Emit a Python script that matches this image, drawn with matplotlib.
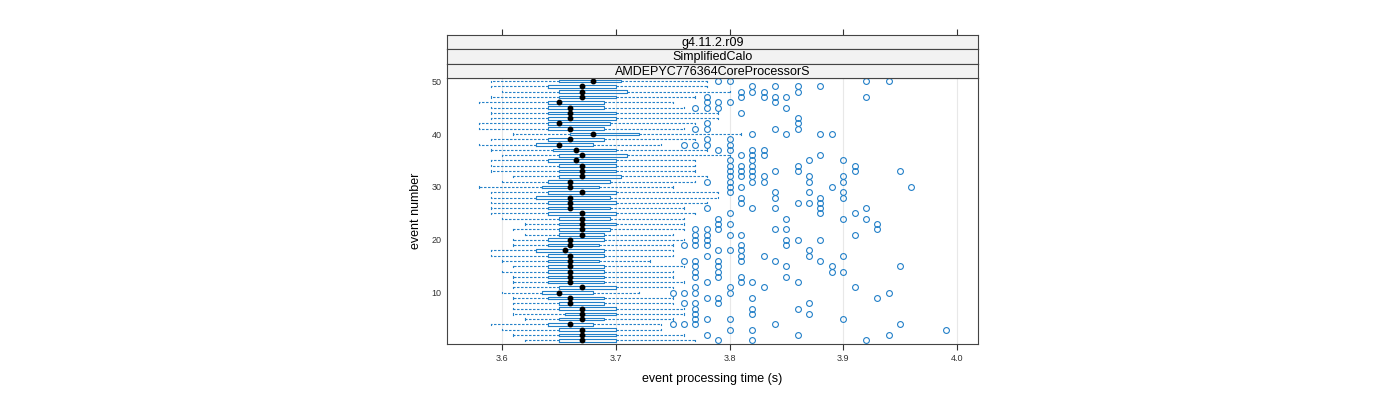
import matplotlib
matplotlib.use("Agg")
import matplotlib.pyplot as plt

plt.rcParams['font.family'] = ['Liberation Sans', 'DejaVu Sans']

events = list(range(1, 51))
whislo = [3.62, 3.61, 3.60, 3.59, 3.62, 3.61, 3.61, 3.61, 3.61, 3.60,
          3.61, 3.61, 3.61, 3.60, 3.61, 3.60, 3.59, 3.59, 3.61, 3.61,
          3.62, 3.61, 3.62, 3.60, 3.59, 3.59, 3.59, 3.59, 3.59, 3.58,
          3.60, 3.61, 3.59, 3.59, 3.59, 3.60, 3.59, 3.58, 3.59, 3.61,
          3.58, 3.58, 3.59, 3.59, 3.59, 3.58, 3.59, 3.60, 3.59, 3.59]
q1 = [3.65, 3.65, 3.65, 3.64, 3.65, 3.655, 3.65, 3.65, 3.64, 3.635,
      3.65, 3.64, 3.64, 3.64, 3.64, 3.64, 3.64, 3.63, 3.64, 3.64,
      3.65, 3.65, 3.65, 3.65, 3.64, 3.64, 3.64, 3.63, 3.64, 3.635,
      3.64, 3.65, 3.65, 3.65, 3.64, 3.65, 3.645, 3.63, 3.64, 3.66,
      3.64, 3.64, 3.64, 3.64, 3.64, 3.64, 3.65, 3.65, 3.64, 3.65]
med = [3.67, 3.67, 3.67, 3.66, 3.67, 3.67, 3.67, 3.66, 3.66, 3.65,
       3.67, 3.66, 3.66, 3.66, 3.66, 3.66, 3.66, 3.655, 3.66, 3.66,
       3.67, 3.67, 3.67, 3.67, 3.67, 3.66, 3.66, 3.66, 3.67, 3.66,
       3.66, 3.67, 3.67, 3.67, 3.665, 3.67, 3.665, 3.65, 3.66, 3.68,
       3.66, 3.65, 3.66, 3.66, 3.66, 3.65, 3.67, 3.67, 3.67, 3.68]
q3 = [3.70, 3.70, 3.70, 3.68, 3.69, 3.70, 3.70, 3.69, 3.69, 3.68,
      3.70, 3.69, 3.69, 3.69, 3.69, 3.685, 3.69, 3.69, 3.685, 3.69,
      3.69, 3.695, 3.70, 3.695, 3.70, 3.695, 3.70, 3.695, 3.70, 3.685,
      3.695, 3.705, 3.70, 3.70, 3.70, 3.71, 3.70, 3.68, 3.69, 3.72,
      3.69, 3.695, 3.70, 3.70, 3.69, 3.69, 3.70, 3.71, 3.70, 3.705]
whishi = [3.77, 3.76, 3.74, 3.74, 3.75, 3.76, 3.76, 3.75, 3.75, 3.72,
          3.75, 3.76, 3.75, 3.75, 3.76, 3.73, 3.75, 3.75, 3.75, 3.76,
          3.75, 3.76, 3.76, 3.76, 3.77, 3.76, 3.78, 3.79, 3.79, 3.75,
          3.77, 3.78, 3.77, 3.77, 3.77, 3.80, 3.78, 3.74, 3.77, 3.81,
          3.76, 3.77, 3.79, 3.79, 3.76, 3.75, 3.77, 3.80, 3.78, 3.78]
outliers = [
    [3.79, 3.82, 3.92],
    [3.78, 3.86, 3.94],
    [3.80, 3.82, 3.99],
    [3.75, 3.76, 3.77, 3.84, 3.95],
    [3.77, 3.78, 3.80, 3.90],
    [3.77, 3.82, 3.87],
    [3.77, 3.82, 3.86],
    [3.76, 3.77, 3.79, 3.87],
    [3.78, 3.79, 3.82, 3.93],
    [3.75, 3.76, 3.77, 3.80, 3.94],
    [3.77, 3.80, 3.83, 3.91],
    [3.78, 3.81, 3.82, 3.86],
    [3.77, 3.79, 3.81, 3.85],
    [3.77, 3.79, 3.89, 3.90],
    [3.77, 3.79, 3.85, 3.89, 3.95],
    [3.76, 3.77, 3.79, 3.81, 3.84, 3.88],
    [3.78, 3.81, 3.83, 3.87, 3.90],
    [3.79, 3.80, 3.81, 3.87],
    [3.76, 3.77, 3.78, 3.81, 3.85],
    [3.77, 3.78, 3.85, 3.86, 3.88],
    [3.77, 3.78, 3.80, 3.81, 3.91],
    [3.77, 3.78, 3.79, 3.84, 3.85, 3.93],
    [3.79, 3.80, 3.93],
    [3.79, 3.85, 3.90, 3.92],
    [3.80, 3.88, 3.91],
    [3.78, 3.82, 3.84, 3.88, 3.92],
    [3.81, 3.86, 3.87, 3.88],
    [3.81, 3.84, 3.88, 3.90],
    [3.80, 3.84, 3.87, 3.90],
    [3.80, 3.81, 3.89, 3.96],
    [3.78, 3.80, 3.82, 3.83, 3.87, 3.90],
    [3.80, 3.81, 3.82, 3.83, 3.87, 3.90],
    [3.80, 3.81, 3.82, 3.84, 3.86, 3.91, 3.95],
    [3.80, 3.81, 3.82, 3.86, 3.91],
    [3.80, 3.82, 3.87, 3.90],
    [3.81, 3.82, 3.83, 3.88],
    [3.79, 3.80, 3.82, 3.83],
    [3.76, 3.77, 3.78, 3.80],
    [3.78, 3.80],
    [3.82, 3.85, 3.88, 3.89],
    [3.77, 3.78, 3.84, 3.86],
    [3.78, 3.86],
    [3.86],
    [3.81],
    [3.77, 3.78, 3.79, 3.85],
    [3.78, 3.79, 3.80, 3.84],
    [3.78, 3.81, 3.83, 3.84, 3.85, 3.92],
    [3.81, 3.82, 3.83, 3.86],
    [3.82, 3.84, 3.86, 3.88],
    [3.79, 3.80, 3.92, 3.94],
]
x_ticks = [3.6, 3.7, 3.8, 3.9, 4.0]
x_ticklabels = ["3.6", "3.7", "3.8", "3.9", "4.0"]
y_ticks = [10, 20, 30, 40, 50]
strip_labels = ["g4.11.2.r09", "SimplifiedCalo", "AMDEPYC776364CoreProcessorS"]
xlabel = "event processing time (s)"
ylabel = "event number"

BLUE = "#2380c8"
W, H = 1400, 400
fig = plt.figure(figsize=(14, 4), dpi=100)

pl, pr, pt, pb = 447, 978, 78, 344
ax = fig.add_axes([pl / W, 1 - pb / H, (pr - pl) / W, (pb - pt) / H])

stats = []
for i in range(len(events)):
    stats.append(dict(med=med[i], q1=q1[i], q3=q3[i], whislo=whislo[i],
                      whishi=whishi[i], fliers=outliers[i], mean=med[i]))

ax.bxp(stats, positions=events, vert=False, widths=0.5, showmeans=True,
       boxprops=dict(color=BLUE, linewidth=0.8),
       whiskerprops=dict(color=BLUE, linewidth=0.8, linestyle=(0, (2.2, 1.4))),
       capprops=dict(color=BLUE, linewidth=0.8),
       capwidths=0.25,
       medianprops=dict(visible=False),
       meanprops=dict(marker='o', markerfacecolor='black', markeredgecolor='black',
                      markersize=3.2),
       flierprops=dict(marker='o', markerfacecolor='none', markeredgecolor=BLUE,
                       markersize=4.2, markeredgewidth=0.8),
       manage_ticks=False, zorder=3)

for xv in x_ticks:
    ax.axvline(xv, color='#e8e8e8', linewidth=0.8, zorder=0)

ax.set_xlim(3.5516, 4.0185)
ax.set_ylim(0.3, 50.6)
ax.set_xticks(x_ticks)
ax.set_xticklabels(x_ticklabels, fontsize=6.5)
ax.set_yticks(y_ticks)
ax.set_yticklabels([str(v) for v in y_ticks], fontsize=6.5)
ax.tick_params(axis='x', direction='out', length=4.3, width=0.8, colors='#333333', pad=3)
ax.tick_params(axis='y', length=0, pad=4, colors='#333333')
for sp in ax.spines.values():
    sp.set_color('#444444')
    sp.set_linewidth(0.8)
ax.set_xlabel(xlabel, fontsize=9, labelpad=7)
ax.set_ylabel(ylabel, fontsize=9, labelpad=7)

# strips
strip_top, strip_bot = 35, 78
sh = (strip_bot - strip_top) / 3.0
for j, lab in enumerate(strip_labels):
    top = strip_top + j * sh
    sax = fig.add_axes([pl / W, 1 - (top + sh) / H, (pr - pl) / W, sh / H])
    sax.set_facecolor('#f2f2f2')
    sax.set_xlim(3.5516, 4.0185)
    sax.set_ylim(0, 1)
    sax.set_yticks([])
    if j == 0:
        sax.xaxis.set_ticks_position('top')
        sax.set_xticks(x_ticks)
        sax.set_xticklabels([])
        sax.tick_params(axis='x', direction='out', length=4.3, width=0.8, colors='#333333')
    else:
        sax.set_xticks([])
    for sp in sax.spines.values():
        sp.set_color('#444444')
        sp.set_linewidth(0.8)
    sax.text(0.5, 0.45, lab, transform=sax.transAxes, ha='center', va='center',
             fontsize=9, color='black')

fig.savefig("out.png", dpi=100)
